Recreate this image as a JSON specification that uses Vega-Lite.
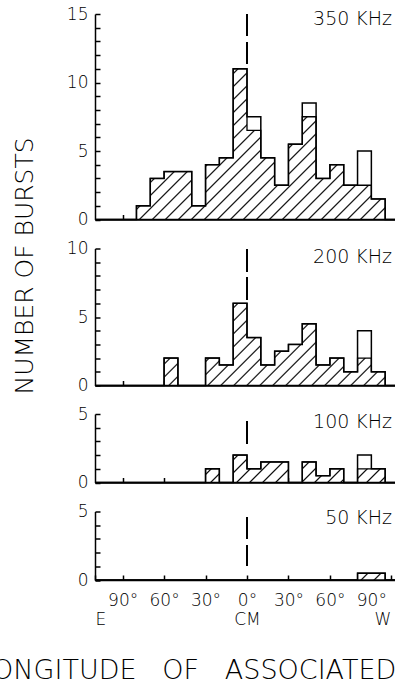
{
  "$schema": "https://vega.github.io/schema/vega-lite/v6.json",
  "background": "white",
  "padding": {"left": -23, "top": 5, "right": -93, "bottom": 0},
  "bounds": "flush",
  "spacing": 28.5,
  "config": {
    "view": {"stroke": null},
    "text": {"font": "DejaVu Sans", "fontSize": 19, "fontWeight": 200, "color": "black"},
    "axis": {"domainColor": "black", "domainWidth": 1.5, "tickColor": "black", "tickWidth": 1.5, "grid": false, "labelFont": "DejaVu Sans", "labelFontSize": 17, "labelColor": "black", "labelFontWeight": 200, "titleColor": "black", "titleFontWeight": 200, "labelOverlap": false, "labelSeparation": -60}
  },
  "datasets": {
    "h": [
      {"band":"350 KHz","lon":-110,"total":0,"hatched":0},
      {"band":"350 KHz","lon":-100,"total":0,"hatched":0},
      {"band":"350 KHz","lon":-90,"total":0,"hatched":0},
      {"band":"350 KHz","lon":-80,"total":1,"hatched":1},
      {"band":"350 KHz","lon":-70,"total":3,"hatched":3},
      {"band":"350 KHz","lon":-60,"total":3.5,"hatched":3.5},
      {"band":"350 KHz","lon":-50,"total":3.5,"hatched":3.5},
      {"band":"350 KHz","lon":-40,"total":1,"hatched":1},
      {"band":"350 KHz","lon":-30,"total":4,"hatched":4},
      {"band":"350 KHz","lon":-20,"total":4.5,"hatched":4.5},
      {"band":"350 KHz","lon":-10,"total":11,"hatched":11},
      {"band":"350 KHz","lon":0,"total":7.5,"hatched":6.5},
      {"band":"350 KHz","lon":10,"total":4.5,"hatched":4.5},
      {"band":"350 KHz","lon":20,"total":2.5,"hatched":2.5},
      {"band":"350 KHz","lon":30,"total":5.5,"hatched":5.5},
      {"band":"350 KHz","lon":40,"total":8.5,"hatched":7.5},
      {"band":"350 KHz","lon":50,"total":3,"hatched":3},
      {"band":"350 KHz","lon":60,"total":4,"hatched":4},
      {"band":"350 KHz","lon":70,"total":2.5,"hatched":2.5},
      {"band":"350 KHz","lon":80,"total":5,"hatched":2.5},
      {"band":"350 KHz","lon":90,"total":1.5,"hatched":1.5},
      {"band":"350 KHz","lon":100,"total":0,"hatched":0},
      {"band":"350 KHz","lon":110,"total":0,"hatched":0},
      {"band":"200 KHz","lon":-110,"total":0,"hatched":0},
      {"band":"200 KHz","lon":-100,"total":0,"hatched":0},
      {"band":"200 KHz","lon":-90,"total":0,"hatched":0},
      {"band":"200 KHz","lon":-80,"total":0,"hatched":0},
      {"band":"200 KHz","lon":-70,"total":0,"hatched":0},
      {"band":"200 KHz","lon":-60,"total":2,"hatched":2},
      {"band":"200 KHz","lon":-50,"total":0,"hatched":0},
      {"band":"200 KHz","lon":-40,"total":0,"hatched":0},
      {"band":"200 KHz","lon":-30,"total":2,"hatched":2},
      {"band":"200 KHz","lon":-20,"total":1.5,"hatched":1.5},
      {"band":"200 KHz","lon":-10,"total":6,"hatched":6},
      {"band":"200 KHz","lon":0,"total":3.5,"hatched":3.5},
      {"band":"200 KHz","lon":10,"total":1.5,"hatched":1.5},
      {"band":"200 KHz","lon":20,"total":2.5,"hatched":2.5},
      {"band":"200 KHz","lon":30,"total":3,"hatched":3},
      {"band":"200 KHz","lon":40,"total":4.5,"hatched":4.5},
      {"band":"200 KHz","lon":50,"total":1.5,"hatched":1.5},
      {"band":"200 KHz","lon":60,"total":2,"hatched":2},
      {"band":"200 KHz","lon":70,"total":1,"hatched":1},
      {"band":"200 KHz","lon":80,"total":4,"hatched":2},
      {"band":"200 KHz","lon":90,"total":1,"hatched":1},
      {"band":"200 KHz","lon":100,"total":0,"hatched":0},
      {"band":"200 KHz","lon":110,"total":0,"hatched":0},
      {"band":"100 KHz","lon":-110,"total":0,"hatched":0},
      {"band":"100 KHz","lon":-100,"total":0,"hatched":0},
      {"band":"100 KHz","lon":-90,"total":0,"hatched":0},
      {"band":"100 KHz","lon":-80,"total":0,"hatched":0},
      {"band":"100 KHz","lon":-70,"total":0,"hatched":0},
      {"band":"100 KHz","lon":-60,"total":0,"hatched":0},
      {"band":"100 KHz","lon":-50,"total":0,"hatched":0},
      {"band":"100 KHz","lon":-40,"total":0,"hatched":0},
      {"band":"100 KHz","lon":-30,"total":1,"hatched":1},
      {"band":"100 KHz","lon":-20,"total":0,"hatched":0},
      {"band":"100 KHz","lon":-10,"total":2,"hatched":2},
      {"band":"100 KHz","lon":0,"total":1,"hatched":1},
      {"band":"100 KHz","lon":10,"total":1.5,"hatched":1.5},
      {"band":"100 KHz","lon":20,"total":1.5,"hatched":1.5},
      {"band":"100 KHz","lon":30,"total":0,"hatched":0},
      {"band":"100 KHz","lon":40,"total":1.5,"hatched":1.5},
      {"band":"100 KHz","lon":50,"total":0.5,"hatched":0.5},
      {"band":"100 KHz","lon":60,"total":1,"hatched":1},
      {"band":"100 KHz","lon":70,"total":0,"hatched":0},
      {"band":"100 KHz","lon":80,"total":2,"hatched":1},
      {"band":"100 KHz","lon":90,"total":1,"hatched":1},
      {"band":"100 KHz","lon":100,"total":0,"hatched":0},
      {"band":"100 KHz","lon":110,"total":0,"hatched":0},
      {"band":"50 KHz","lon":-110,"total":0,"hatched":0},
      {"band":"50 KHz","lon":-100,"total":0,"hatched":0},
      {"band":"50 KHz","lon":-90,"total":0,"hatched":0},
      {"band":"50 KHz","lon":-80,"total":0,"hatched":0},
      {"band":"50 KHz","lon":-70,"total":0,"hatched":0},
      {"band":"50 KHz","lon":-60,"total":0,"hatched":0},
      {"band":"50 KHz","lon":-50,"total":0,"hatched":0},
      {"band":"50 KHz","lon":-40,"total":0,"hatched":0},
      {"band":"50 KHz","lon":-30,"total":0,"hatched":0},
      {"band":"50 KHz","lon":-20,"total":0,"hatched":0},
      {"band":"50 KHz","lon":-10,"total":0,"hatched":0},
      {"band":"50 KHz","lon":0,"total":0,"hatched":0},
      {"band":"50 KHz","lon":10,"total":0,"hatched":0},
      {"band":"50 KHz","lon":20,"total":0,"hatched":0},
      {"band":"50 KHz","lon":30,"total":0,"hatched":0},
      {"band":"50 KHz","lon":40,"total":0,"hatched":0},
      {"band":"50 KHz","lon":50,"total":0,"hatched":0},
      {"band":"50 KHz","lon":60,"total":0,"hatched":0},
      {"band":"50 KHz","lon":70,"total":0,"hatched":0},
      {"band":"50 KHz","lon":80,"total":0.5,"hatched":0.5},
      {"band":"50 KHz","lon":90,"total":0.5,"hatched":0.5},
      {"band":"50 KHz","lon":100,"total":0,"hatched":0},
      {"band":"50 KHz","lon":110,"total":0,"hatched":0}
    ]
  },
  "vconcat": [
    {
      "width": 304, "height": 205.5,
      "data": {"name": "h"},
      "transform": [{"filter": "datum.band == '350 KHz'"}],
      "layer": [
        {
          "mark": {"type": "area", "interpolate": "step-after", "stroke": "black", "strokeWidth": 1.3,
            "fill": {"gradient": "linear", "x1": 0, "y1": 0, "x2": 1.2015, "y2": 0.5956, "stops": [
              {"offset":0.0251,"color":"white"},{"offset":0.0286,"color":"black"},{"offset":0.0321,"color":"white"},
              {"offset":0.0536,"color":"white"},{"offset":0.0571,"color":"black"},{"offset":0.0606,"color":"white"},
              {"offset":0.0822,"color":"white"},{"offset":0.0857,"color":"black"},{"offset":0.0892,"color":"white"},
              {"offset":0.1108,"color":"white"},{"offset":0.1143,"color":"black"},{"offset":0.1178,"color":"white"},
              {"offset":0.1394,"color":"white"},{"offset":0.1429,"color":"black"},{"offset":0.1464,"color":"white"},
              {"offset":0.1679,"color":"white"},{"offset":0.1714,"color":"black"},{"offset":0.1749,"color":"white"},
              {"offset":0.1965,"color":"white"},{"offset":0.2,"color":"black"},{"offset":0.2035,"color":"white"},
              {"offset":0.2251,"color":"white"},{"offset":0.2286,"color":"black"},{"offset":0.2321,"color":"white"},
              {"offset":0.2536,"color":"white"},{"offset":0.2571,"color":"black"},{"offset":0.2606,"color":"white"},
              {"offset":0.2822,"color":"white"},{"offset":0.2857,"color":"black"},{"offset":0.2892,"color":"white"},
              {"offset":0.3108,"color":"white"},{"offset":0.3143,"color":"black"},{"offset":0.3178,"color":"white"},
              {"offset":0.3394,"color":"white"},{"offset":0.3429,"color":"black"},{"offset":0.3464,"color":"white"},
              {"offset":0.3679,"color":"white"},{"offset":0.3714,"color":"black"},{"offset":0.3749,"color":"white"},
              {"offset":0.3965,"color":"white"},{"offset":0.4,"color":"black"},{"offset":0.4035,"color":"white"},
              {"offset":0.4251,"color":"white"},{"offset":0.4286,"color":"black"},{"offset":0.4321,"color":"white"},
              {"offset":0.4536,"color":"white"},{"offset":0.4571,"color":"black"},{"offset":0.4606,"color":"white"},
              {"offset":0.4822,"color":"white"},{"offset":0.4857,"color":"black"},{"offset":0.4892,"color":"white"},
              {"offset":0.5108,"color":"white"},{"offset":0.5143,"color":"black"},{"offset":0.5178,"color":"white"},
              {"offset":0.5394,"color":"white"},{"offset":0.5429,"color":"black"},{"offset":0.5464,"color":"white"},
              {"offset":0.5679,"color":"white"},{"offset":0.5714,"color":"black"},{"offset":0.5749,"color":"white"},
              {"offset":0.5965,"color":"white"},{"offset":0.6,"color":"black"},{"offset":0.6035,"color":"white"},
              {"offset":0.6251,"color":"white"},{"offset":0.6286,"color":"black"},{"offset":0.6321,"color":"white"},
              {"offset":0.6536,"color":"white"},{"offset":0.6571,"color":"black"},{"offset":0.6606,"color":"white"},
              {"offset":0.6822,"color":"white"},{"offset":0.6857,"color":"black"},{"offset":0.6892,"color":"white"},
              {"offset":0.7108,"color":"white"},{"offset":0.7143,"color":"black"},{"offset":0.7178,"color":"white"},
              {"offset":0.7394,"color":"white"},{"offset":0.7429,"color":"black"},{"offset":0.7464,"color":"white"},
              {"offset":0.7679,"color":"white"},{"offset":0.7714,"color":"black"},{"offset":0.7749,"color":"white"},
              {"offset":0.7965,"color":"white"},{"offset":0.8,"color":"black"},{"offset":0.8035,"color":"white"},
              {"offset":0.8251,"color":"white"},{"offset":0.8286,"color":"black"},{"offset":0.8321,"color":"white"},
              {"offset":0.8536,"color":"white"},{"offset":0.8571,"color":"black"},{"offset":0.8606,"color":"white"},
              {"offset":0.8822,"color":"white"},{"offset":0.8857,"color":"black"},{"offset":0.8892,"color":"white"},
              {"offset":0.9108,"color":"white"},{"offset":0.9143,"color":"black"},{"offset":0.9178,"color":"white"},
              {"offset":0.9394,"color":"white"},{"offset":0.9429,"color":"black"},{"offset":0.9464,"color":"white"},
              {"offset":0.9679,"color":"white"},{"offset":0.9714,"color":"black"},{"offset":0.9749,"color":"white"}
            ]}},
          "encoding": {
            "x": {"field": "lon", "type": "quantitative", "scale": {"domain": [-110, 110], "nice": false, "zero": false},
              "axis": {"values": [-90, -60, -30, 0, 30, 60, 90], "labels": false, "tickSize": -5, "title": null}},
            "y": {"field": "hatched", "type": "quantitative", "stack": null, "scale": {"domain": [0, 15], "nice": false},
              "axis": {"values": [0,1,2,3,4,5,6,7,8,9,10,11,12,13,14,15], "labelExpr": "datum.value % 5 == 0 ? datum.label : ''", "tickSize": -5, "labelPadding": 12, "labelFlush": false, "labelOverlap": false, "title": null}}
          }
        },
        {
          "mark": {"type": "line", "interpolate": "step-after", "color": "black", "strokeWidth": 1.5},
          "encoding": {
            "x": {"field": "lon", "type": "quantitative", "axis": {"values": [-90, -60, -30, 0, 30, 60, 90], "labels": false, "tickSize": -5, "title": null}},
            "y": {"field": "total", "type": "quantitative", "axis": {"values": [0,1,2,3,4,5,6,7,8,9,10,11,12,13,14,15], "labelExpr": "datum.value % 5 == 0 ? datum.label : ''", "tickSize": -5, "labelPadding": 12, "labelFlush": false, "labelOverlap": false, "title": null}}
          }
        },
        {
          "mark": {"type": "rule", "color": "black", "strokeWidth": 1.5, "strokeDash": [22, 6]},
          "encoding": {
            "x": {"datum": 0, "axis": {"values": [-90, -60, -30, 0, 30, 60, 90], "labels": false, "tickSize": -5, "title": null}},
            "y": {"datum": 15, "axis": {"values": [0,1,2,3,4,5,6,7,8,9,10,11,12,13,14,15], "labelExpr": "datum.value % 5 == 0 ? datum.label : ''", "tickSize": -5, "labelPadding": 12, "labelFlush": false, "labelOverlap": false, "title": null}},
            "y2": {"datum": 11}
          }
        },
        {
          "data": {"values": [{"band": "350 KHz"}]},
          "mark": {"type": "text", "align": "right", "baseline": "middle"},
          "encoding": {
            "x": {"datum": 105, "axis": {"values": [-90, -60, -30, 0, 30, 60, 90], "labels": false, "tickSize": -5, "title": null}},
            "y": {"datum": 14.6, "axis": {"values": [0,1,2,3,4,5,6,7,8,9,10,11,12,13,14,15], "labelExpr": "datum.value % 5 == 0 ? datum.label : ''", "tickSize": -5, "labelPadding": 12, "labelFlush": false, "labelOverlap": false, "title": null}},
            "text": {"field": "band"}
          }
        }
      ]
    },
    {
      "width": 304, "height": 137,
      "data": {"name": "h"},
      "transform": [{"filter": "datum.band == '200 KHz'"}],
      "layer": [
        {
          "mark": {"type": "area", "interpolate": "step-after", "stroke": "black", "strokeWidth": 1.3,
            "fill": {"gradient": "linear", "x1": 0, "y1": 0, "x2": 1.3947, "y2": 0.3771, "stops": [
              {"offset":0.0251,"color":"white"},{"offset":0.0286,"color":"black"},{"offset":0.0321,"color":"white"},
              {"offset":0.0536,"color":"white"},{"offset":0.0571,"color":"black"},{"offset":0.0606,"color":"white"},
              {"offset":0.0822,"color":"white"},{"offset":0.0857,"color":"black"},{"offset":0.0892,"color":"white"},
              {"offset":0.1108,"color":"white"},{"offset":0.1143,"color":"black"},{"offset":0.1178,"color":"white"},
              {"offset":0.1394,"color":"white"},{"offset":0.1429,"color":"black"},{"offset":0.1464,"color":"white"},
              {"offset":0.1679,"color":"white"},{"offset":0.1714,"color":"black"},{"offset":0.1749,"color":"white"},
              {"offset":0.1965,"color":"white"},{"offset":0.2,"color":"black"},{"offset":0.2035,"color":"white"},
              {"offset":0.2251,"color":"white"},{"offset":0.2286,"color":"black"},{"offset":0.2321,"color":"white"},
              {"offset":0.2536,"color":"white"},{"offset":0.2571,"color":"black"},{"offset":0.2606,"color":"white"},
              {"offset":0.2822,"color":"white"},{"offset":0.2857,"color":"black"},{"offset":0.2892,"color":"white"},
              {"offset":0.3108,"color":"white"},{"offset":0.3143,"color":"black"},{"offset":0.3178,"color":"white"},
              {"offset":0.3394,"color":"white"},{"offset":0.3429,"color":"black"},{"offset":0.3464,"color":"white"},
              {"offset":0.3679,"color":"white"},{"offset":0.3714,"color":"black"},{"offset":0.3749,"color":"white"},
              {"offset":0.3965,"color":"white"},{"offset":0.4,"color":"black"},{"offset":0.4035,"color":"white"},
              {"offset":0.4251,"color":"white"},{"offset":0.4286,"color":"black"},{"offset":0.4321,"color":"white"},
              {"offset":0.4536,"color":"white"},{"offset":0.4571,"color":"black"},{"offset":0.4606,"color":"white"},
              {"offset":0.4822,"color":"white"},{"offset":0.4857,"color":"black"},{"offset":0.4892,"color":"white"},
              {"offset":0.5108,"color":"white"},{"offset":0.5143,"color":"black"},{"offset":0.5178,"color":"white"},
              {"offset":0.5394,"color":"white"},{"offset":0.5429,"color":"black"},{"offset":0.5464,"color":"white"},
              {"offset":0.5679,"color":"white"},{"offset":0.5714,"color":"black"},{"offset":0.5749,"color":"white"},
              {"offset":0.5965,"color":"white"},{"offset":0.6,"color":"black"},{"offset":0.6035,"color":"white"},
              {"offset":0.6251,"color":"white"},{"offset":0.6286,"color":"black"},{"offset":0.6321,"color":"white"},
              {"offset":0.6536,"color":"white"},{"offset":0.6571,"color":"black"},{"offset":0.6606,"color":"white"},
              {"offset":0.6822,"color":"white"},{"offset":0.6857,"color":"black"},{"offset":0.6892,"color":"white"},
              {"offset":0.7108,"color":"white"},{"offset":0.7143,"color":"black"},{"offset":0.7178,"color":"white"},
              {"offset":0.7394,"color":"white"},{"offset":0.7429,"color":"black"},{"offset":0.7464,"color":"white"},
              {"offset":0.7679,"color":"white"},{"offset":0.7714,"color":"black"},{"offset":0.7749,"color":"white"},
              {"offset":0.7965,"color":"white"},{"offset":0.8,"color":"black"},{"offset":0.8035,"color":"white"},
              {"offset":0.8251,"color":"white"},{"offset":0.8286,"color":"black"},{"offset":0.8321,"color":"white"},
              {"offset":0.8536,"color":"white"},{"offset":0.8571,"color":"black"},{"offset":0.8606,"color":"white"}
            ]}},
          "encoding": {
            "x": {"field": "lon", "type": "quantitative", "scale": {"domain": [-110, 110], "nice": false, "zero": false},
              "axis": {"values": [-90, -60, -30, 0, 30, 60, 90], "labels": false, "tickSize": -5, "title": null}},
            "y": {"field": "hatched", "type": "quantitative", "stack": null, "scale": {"domain": [0, 10], "nice": false},
              "axis": {"values": [0,1,2,3,4,5,6,7,8,9,10], "labelExpr": "datum.value % 5 == 0 ? datum.label : ''", "tickSize": -5, "labelPadding": 12, "labelFlush": false, "labelOverlap": false,
                "title": "NUMBER OF BURSTS", "titleFont": "DejaVu Sans", "titleFontSize": 25, "titleAngle": 270, "titleX": -71, "titleY": 17, "titleAlign": "center", "titleBaseline": "middle"}}
          }
        },
        {
          "mark": {"type": "line", "interpolate": "step-after", "color": "black", "strokeWidth": 1.5},
          "encoding": {
            "x": {"field": "lon", "type": "quantitative", "axis": {"values": [-90, -60, -30, 0, 30, 60, 90], "labels": false, "tickSize": -5, "title": null}},
            "y": {"field": "total", "type": "quantitative", "axis": {"values": [0,1,2,3,4,5,6,7,8,9,10], "labelExpr": "datum.value % 5 == 0 ? datum.label : ''", "tickSize": -5, "labelPadding": 12, "labelFlush": false, "labelOverlap": false,
                "title": "NUMBER OF BURSTS", "titleFont": "DejaVu Sans", "titleFontSize": 25, "titleAngle": 270, "titleX": -71, "titleY": 17, "titleAlign": "center", "titleBaseline": "middle"}}
          }
        },
        {
          "mark": {"type": "rule", "color": "black", "strokeWidth": 1.5, "strokeDash": [22, 6]},
          "encoding": {
            "x": {"datum": 0, "axis": {"values": [-90, -60, -30, 0, 30, 60, 90], "labels": false, "tickSize": -5, "title": null}},
            "y": {"datum": 9.9, "axis": {"values": [0,1,2,3,4,5,6,7,8,9,10], "labelExpr": "datum.value % 5 == 0 ? datum.label : ''", "tickSize": -5, "labelPadding": 12, "labelFlush": false, "labelOverlap": false,
                "title": "NUMBER OF BURSTS", "titleFont": "DejaVu Sans", "titleFontSize": 25, "titleAngle": 270, "titleX": -71, "titleY": 17, "titleAlign": "center", "titleBaseline": "middle"}},
            "y2": {"datum": 6.2}
          }
        },
        {
          "data": {"values": [{"band": "200 KHz"}]},
          "mark": {"type": "text", "align": "right", "baseline": "middle"},
          "encoding": {
            "x": {"datum": 105, "axis": {"values": [-90, -60, -30, 0, 30, 60, 90], "labels": false, "tickSize": -5, "title": null}},
            "y": {"datum": 9.4, "axis": {"values": [0,1,2,3,4,5,6,7,8,9,10], "labelExpr": "datum.value % 5 == 0 ? datum.label : ''", "tickSize": -5, "labelPadding": 12, "labelFlush": false, "labelOverlap": false,
                "title": "NUMBER OF BURSTS", "titleFont": "DejaVu Sans", "titleFontSize": 25, "titleAngle": 270, "titleX": -71, "titleY": 17, "titleAlign": "center", "titleBaseline": "middle"}},
            "text": {"field": "band"}
          }
        }
      ]
    },
    {
      "width": 304, "height": 68.5,
      "data": {"name": "h"},
      "transform": [{"filter": "datum.band == '100 KHz'"}],
      "layer": [
        {
          "mark": {"type": "area", "interpolate": "step-after", "stroke": "black", "strokeWidth": 1.3,
            "fill": {"gradient": "linear", "x1": 0, "y1": 0, "x2": 1.4847, "y2": 0.1338, "stops": [
              {"offset":0.0251,"color":"white"},{"offset":0.0286,"color":"black"},{"offset":0.0321,"color":"white"},
              {"offset":0.0536,"color":"white"},{"offset":0.0571,"color":"black"},{"offset":0.0606,"color":"white"},
              {"offset":0.0822,"color":"white"},{"offset":0.0857,"color":"black"},{"offset":0.0892,"color":"white"},
              {"offset":0.1108,"color":"white"},{"offset":0.1143,"color":"black"},{"offset":0.1178,"color":"white"},
              {"offset":0.1394,"color":"white"},{"offset":0.1429,"color":"black"},{"offset":0.1464,"color":"white"},
              {"offset":0.1679,"color":"white"},{"offset":0.1714,"color":"black"},{"offset":0.1749,"color":"white"},
              {"offset":0.1965,"color":"white"},{"offset":0.2,"color":"black"},{"offset":0.2035,"color":"white"},
              {"offset":0.2251,"color":"white"},{"offset":0.2286,"color":"black"},{"offset":0.2321,"color":"white"},
              {"offset":0.2536,"color":"white"},{"offset":0.2571,"color":"black"},{"offset":0.2606,"color":"white"},
              {"offset":0.2822,"color":"white"},{"offset":0.2857,"color":"black"},{"offset":0.2892,"color":"white"},
              {"offset":0.3108,"color":"white"},{"offset":0.3143,"color":"black"},{"offset":0.3178,"color":"white"},
              {"offset":0.3394,"color":"white"},{"offset":0.3429,"color":"black"},{"offset":0.3464,"color":"white"},
              {"offset":0.3679,"color":"white"},{"offset":0.3714,"color":"black"},{"offset":0.3749,"color":"white"},
              {"offset":0.3965,"color":"white"},{"offset":0.4,"color":"black"},{"offset":0.4035,"color":"white"},
              {"offset":0.4251,"color":"white"},{"offset":0.4286,"color":"black"},{"offset":0.4321,"color":"white"},
              {"offset":0.4536,"color":"white"},{"offset":0.4571,"color":"black"},{"offset":0.4606,"color":"white"},
              {"offset":0.4822,"color":"white"},{"offset":0.4857,"color":"black"},{"offset":0.4892,"color":"white"},
              {"offset":0.5108,"color":"white"},{"offset":0.5143,"color":"black"},{"offset":0.5178,"color":"white"},
              {"offset":0.5394,"color":"white"},{"offset":0.5429,"color":"black"},{"offset":0.5464,"color":"white"},
              {"offset":0.5679,"color":"white"},{"offset":0.5714,"color":"black"},{"offset":0.5749,"color":"white"},
              {"offset":0.5965,"color":"white"},{"offset":0.6,"color":"black"},{"offset":0.6035,"color":"white"},
              {"offset":0.6251,"color":"white"},{"offset":0.6286,"color":"black"},{"offset":0.6321,"color":"white"},
              {"offset":0.6536,"color":"white"},{"offset":0.6571,"color":"black"},{"offset":0.6606,"color":"white"},
              {"offset":0.6822,"color":"white"},{"offset":0.6857,"color":"black"},{"offset":0.6892,"color":"white"},
              {"offset":0.7108,"color":"white"},{"offset":0.7143,"color":"black"},{"offset":0.7178,"color":"white"},
              {"offset":0.7394,"color":"white"},{"offset":0.7429,"color":"black"},{"offset":0.7464,"color":"white"}
            ]}},
          "encoding": {
            "x": {"field": "lon", "type": "quantitative", "scale": {"domain": [-110, 110], "nice": false, "zero": false},
              "axis": {"values": [-90, -60, -30, 0, 30, 60, 90], "labels": false, "tickSize": -5, "title": null}},
            "y": {"field": "hatched", "type": "quantitative", "stack": null, "scale": {"domain": [0, 5], "nice": false},
              "axis": {"values": [0,1,2,3,4,5], "labelExpr": "datum.value % 5 == 0 ? datum.label : ''", "tickSize": -5, "labelPadding": 12, "labelFlush": false, "labelOverlap": false, "title": null}}
          }
        },
        {
          "mark": {"type": "line", "interpolate": "step-after", "color": "black", "strokeWidth": 1.5},
          "encoding": {
            "x": {"field": "lon", "type": "quantitative", "axis": {"values": [-90, -60, -30, 0, 30, 60, 90], "labels": false, "tickSize": -5, "title": null}},
            "y": {"field": "total", "type": "quantitative", "axis": {"values": [0,1,2,3,4,5], "labelExpr": "datum.value % 5 == 0 ? datum.label : ''", "tickSize": -5, "labelPadding": 12, "labelFlush": false, "labelOverlap": false, "title": null}}
          }
        },
        {
          "mark": {"type": "rule", "color": "black", "strokeWidth": 1.5, "strokeDash": [22, 6]},
          "encoding": {
            "x": {"datum": 0, "axis": {"values": [-90, -60, -30, 0, 30, 60, 90], "labels": false, "tickSize": -5, "title": null}},
            "y": {"datum": 4.45, "axis": {"values": [0,1,2,3,4,5], "labelExpr": "datum.value % 5 == 0 ? datum.label : ''", "tickSize": -5, "labelPadding": 12, "labelFlush": false, "labelOverlap": false, "title": null}},
            "y2": {"datum": 2.5}
          }
        },
        {
          "data": {"values": [{"band": "100 KHz"}]},
          "mark": {"type": "text", "align": "right", "baseline": "middle"},
          "encoding": {
            "x": {"datum": 105, "axis": {"values": [-90, -60, -30, 0, 30, 60, 90], "labels": false, "tickSize": -5, "title": null}},
            "y": {"datum": 4.45, "axis": {"values": [0,1,2,3,4,5], "labelExpr": "datum.value % 5 == 0 ? datum.label : ''", "tickSize": -5, "labelPadding": 12, "labelFlush": false, "labelOverlap": false, "title": null}},
            "text": {"field": "band"}
          }
        }
      ]
    },
    {
      "width": 304, "height": 68.5,
      "data": {"name": "h"},
      "transform": [{"filter": "datum.band == '50 KHz'"}],
      "layer": [
        {
          "mark": {"type": "area", "interpolate": "step-after", "stroke": "black", "strokeWidth": 1.3,
            "fill": {"gradient": "linear", "x1": 0, "y1": 0, "x2": 1.496, "y2": 0.0337, "stops": [
              {"offset":0.0251,"color":"white"},{"offset":0.0286,"color":"black"},{"offset":0.0321,"color":"white"},
              {"offset":0.0536,"color":"white"},{"offset":0.0571,"color":"black"},{"offset":0.0606,"color":"white"},
              {"offset":0.0822,"color":"white"},{"offset":0.0857,"color":"black"},{"offset":0.0892,"color":"white"},
              {"offset":0.1108,"color":"white"},{"offset":0.1143,"color":"black"},{"offset":0.1178,"color":"white"},
              {"offset":0.1394,"color":"white"},{"offset":0.1429,"color":"black"},{"offset":0.1464,"color":"white"},
              {"offset":0.1679,"color":"white"},{"offset":0.1714,"color":"black"},{"offset":0.1749,"color":"white"},
              {"offset":0.1965,"color":"white"},{"offset":0.2,"color":"black"},{"offset":0.2035,"color":"white"},
              {"offset":0.2251,"color":"white"},{"offset":0.2286,"color":"black"},{"offset":0.2321,"color":"white"},
              {"offset":0.2536,"color":"white"},{"offset":0.2571,"color":"black"},{"offset":0.2606,"color":"white"},
              {"offset":0.2822,"color":"white"},{"offset":0.2857,"color":"black"},{"offset":0.2892,"color":"white"},
              {"offset":0.3108,"color":"white"},{"offset":0.3143,"color":"black"},{"offset":0.3178,"color":"white"},
              {"offset":0.3394,"color":"white"},{"offset":0.3429,"color":"black"},{"offset":0.3464,"color":"white"},
              {"offset":0.3679,"color":"white"},{"offset":0.3714,"color":"black"},{"offset":0.3749,"color":"white"},
              {"offset":0.3965,"color":"white"},{"offset":0.4,"color":"black"},{"offset":0.4035,"color":"white"},
              {"offset":0.4251,"color":"white"},{"offset":0.4286,"color":"black"},{"offset":0.4321,"color":"white"},
              {"offset":0.4536,"color":"white"},{"offset":0.4571,"color":"black"},{"offset":0.4606,"color":"white"},
              {"offset":0.4822,"color":"white"},{"offset":0.4857,"color":"black"},{"offset":0.4892,"color":"white"},
              {"offset":0.5108,"color":"white"},{"offset":0.5143,"color":"black"},{"offset":0.5178,"color":"white"},
              {"offset":0.5394,"color":"white"},{"offset":0.5429,"color":"black"},{"offset":0.5464,"color":"white"},
              {"offset":0.5679,"color":"white"},{"offset":0.5714,"color":"black"},{"offset":0.5749,"color":"white"},
              {"offset":0.5965,"color":"white"},{"offset":0.6,"color":"black"},{"offset":0.6035,"color":"white"},
              {"offset":0.6251,"color":"white"},{"offset":0.6286,"color":"black"},{"offset":0.6321,"color":"white"},
              {"offset":0.6536,"color":"white"},{"offset":0.6571,"color":"black"},{"offset":0.6606,"color":"white"},
              {"offset":0.6822,"color":"white"},{"offset":0.6857,"color":"black"},{"offset":0.6892,"color":"white"}
            ]}},
          "encoding": {
            "x": {"field": "lon", "type": "quantitative", "scale": {"domain": [-110, 110], "nice": false, "zero": false},
              "axis": {"values": [-110, -90, -60, -30, 0, 30, 60, 90, 104],
                "labelExpr": "datum.value == -110 ? ['', 'E'] : datum.value > 100 ? ['', 'W'] : datum.value == 0 ? ['0°', 'CM'] : abs(datum.value) + '°'",
                "tickSize": -5, "labelPadding": 17, "labelBaseline": "top", "labelLineHeight": 19, "labelFlush": 20, "labelOverlap": false,
                "title": "LONGITUDE\u00a0\u00a0 OF\u00a0\u00a0 ASSOCIATED FLARE", "titleFont": "DejaVu Sans", "titleFontSize": 27,
                "titleAnchor": "start", "titleAlign": "left", "titleBaseline": "alphabetic", "titleX": -117.5, "titleY": 98}},
            "y": {"field": "hatched", "type": "quantitative", "stack": null, "scale": {"domain": [0, 5], "nice": false},
              "axis": {"values": [0,1,2,3,4,5], "labelExpr": "datum.value % 5 == 0 ? datum.label : ''", "tickSize": -5, "labelPadding": 12, "labelFlush": false, "labelOverlap": false, "title": null}}
          }
        },
        {
          "mark": {"type": "line", "interpolate": "step-after", "color": "black", "strokeWidth": 1.5},
          "encoding": {
            "x": {"field": "lon", "type": "quantitative", "axis": {"values": [-110, -90, -60, -30, 0, 30, 60, 90, 104],
                "labelExpr": "datum.value == -110 ? ['', 'E'] : datum.value > 100 ? ['', 'W'] : datum.value == 0 ? ['0°', 'CM'] : abs(datum.value) + '°'",
                "tickSize": -5, "labelPadding": 17, "labelBaseline": "top", "labelLineHeight": 19, "labelFlush": 20, "labelOverlap": false,
                "title": "LONGITUDE\u00a0\u00a0 OF\u00a0\u00a0 ASSOCIATED FLARE", "titleFont": "DejaVu Sans", "titleFontSize": 27,
                "titleAnchor": "start", "titleAlign": "left", "titleBaseline": "alphabetic", "titleX": -117.5, "titleY": 98}},
            "y": {"field": "total", "type": "quantitative", "axis": {"values": [0,1,2,3,4,5], "labelExpr": "datum.value % 5 == 0 ? datum.label : ''", "tickSize": -5, "labelPadding": 12, "labelFlush": false, "labelOverlap": false, "title": null}}
          }
        },
        {
          "mark": {"type": "rule", "color": "black", "strokeWidth": 1.5, "strokeDash": [22, 6]},
          "encoding": {
            "x": {"datum": 0, "axis": {"values": [-110, -90, -60, -30, 0, 30, 60, 90, 104],
                "labelExpr": "datum.value == -110 ? ['', 'E'] : datum.value > 100 ? ['', 'W'] : datum.value == 0 ? ['0°', 'CM'] : abs(datum.value) + '°'",
                "tickSize": -5, "labelPadding": 17, "labelBaseline": "top", "labelLineHeight": 19, "labelFlush": 20, "labelOverlap": false,
                "title": "LONGITUDE\u00a0\u00a0 OF\u00a0\u00a0 ASSOCIATED FLARE", "titleFont": "DejaVu Sans", "titleFontSize": 27,
                "titleAnchor": "start", "titleAlign": "left", "titleBaseline": "alphabetic", "titleX": -117.5, "titleY": 98}},
            "y": {"datum": 4.6, "axis": {"values": [0,1,2,3,4,5], "labelExpr": "datum.value % 5 == 0 ? datum.label : ''", "tickSize": -5, "labelPadding": 12, "labelFlush": false, "labelOverlap": false, "title": null}},
            "y2": {"datum": 1.05}
          }
        },
        {
          "data": {"values": [{"band": "50 KHz"}]},
          "mark": {"type": "text", "align": "right", "baseline": "middle"},
          "encoding": {
            "x": {"datum": 105, "axis": {"values": [-110, -90, -60, -30, 0, 30, 60, 90, 104],
                "labelExpr": "datum.value == -110 ? ['', 'E'] : datum.value > 100 ? ['', 'W'] : datum.value == 0 ? ['0°', 'CM'] : abs(datum.value) + '°'",
                "tickSize": -5, "labelPadding": 17, "labelBaseline": "top", "labelLineHeight": 19, "labelFlush": 20, "labelOverlap": false,
                "title": "LONGITUDE\u00a0\u00a0 OF\u00a0\u00a0 ASSOCIATED FLARE", "titleFont": "DejaVu Sans", "titleFontSize": 27,
                "titleAnchor": "start", "titleAlign": "left", "titleBaseline": "alphabetic", "titleX": -117.5, "titleY": 98}},
            "y": {"datum": 4.5, "axis": {"values": [0,1,2,3,4,5], "labelExpr": "datum.value % 5 == 0 ? datum.label : ''", "tickSize": -5, "labelPadding": 12, "labelFlush": false, "labelOverlap": false, "title": null}},
            "text": {"field": "band"}
          }
        }
      ]
    }
  ]
}
